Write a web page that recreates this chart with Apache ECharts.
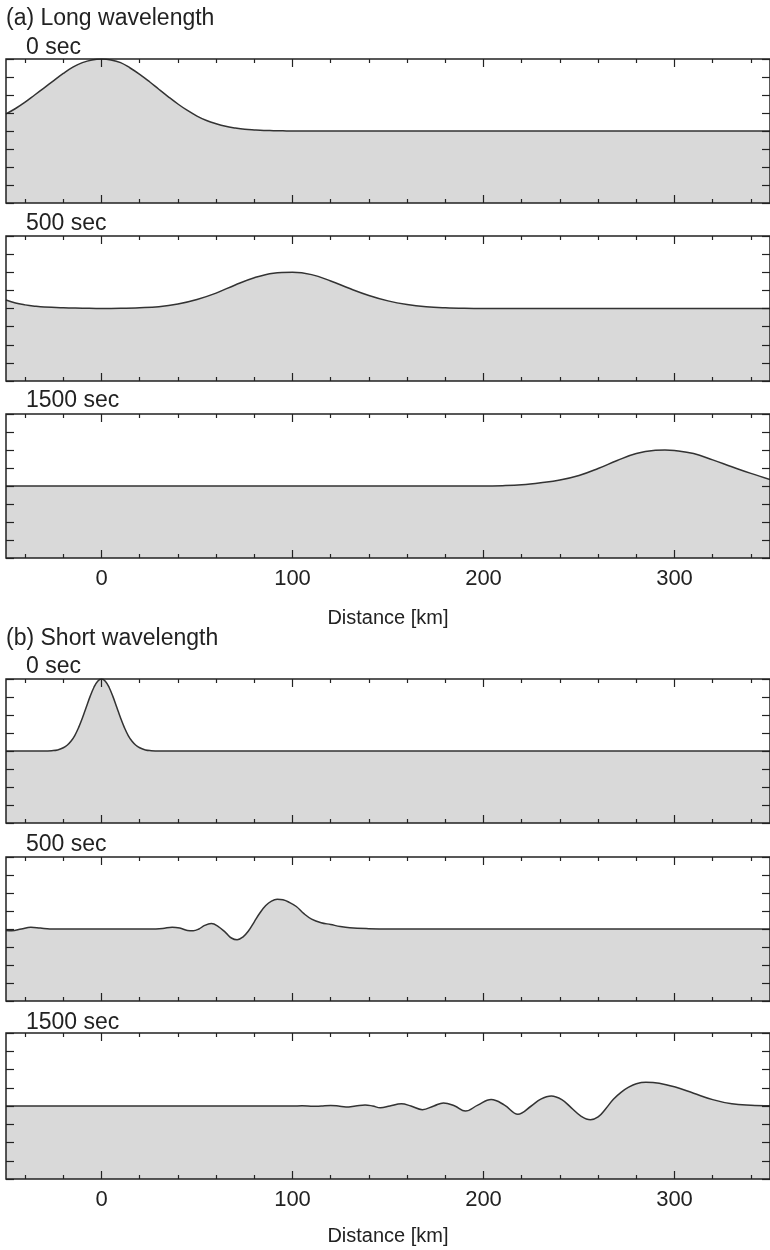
<!DOCTYPE html>
<html>
<head>
<meta charset="utf-8">
<script src="https://cdn.jsdelivr.net/npm/echarts@6/dist/echarts.min.js"></script>
<style>
  html, body { margin: 0; padding: 0; background: #fff; }
  #main { width: 770px; height: 1250px; }
</style>
</head>
<body>
<div id="main"></div>
<script>
// ticks on the distance axis
const majorTicks = [0, 100, 200, 300];
const minorTicks = [-40, -20, 20, 40, 60, 80, 120, 140, 160, 180, 220, 240, 260, 280, 320, 340];

// panel titles
const groupTitles = ['(a) Long wavelength', '(b) Short wavelength'];
const timeLabels = ['0 sec', '500 sec', '1500 sec', '0 sec', '500 sec', '1500 sec'];

// (a) long wavelength, 0 sec
const longX0 = [-50, -45, -40, -35, -30, -25, -20, -15, -10, -5, 0, 5, 10, 15, 20, 25, 30, 35, 40, 45, 50, 55, 60, 65, 70, 75, 80, 85, 90, 95, 100, 150, 200, 250, 300, 350];
const longY0 = [0.95, 1.25, 1.6, 2.0, 2.4, 2.8, 3.2, 3.55, 3.8, 3.95, 4.0, 3.95, 3.8, 3.5, 3.15, 2.75, 2.32, 1.9, 1.5, 1.14, 0.83, 0.58, 0.4, 0.26, 0.17, 0.1, 0.06, 0.03, 0.02, 0.01, 0, 0, 0, 0, 0, 0];
// (a) 500 sec
const longX1 = [-50, -45, -40, -35, -30, -20, -10, 0, 10, 20, 30, 40, 50, 60, 70, 80, 90, 100, 110, 120, 130, 140, 150, 160, 170, 180, 190, 200, 250, 300, 350];
const longY1 = [0.47, 0.3, 0.2, 0.13, 0.08, 0.04, 0.02, 0, 0.01, 0.04, 0.1, 0.25, 0.5, 0.85, 1.3, 1.7, 1.95, 2.0, 1.87, 1.52, 1.1, 0.72, 0.42, 0.22, 0.1, 0.04, 0.01, 0, 0, 0, 0];
// (a) 1500 sec
const longX2 = [-50, 0, 50, 100, 150, 200, 210, 220, 230, 240, 250, 260, 270, 280, 290, 295, 300, 310, 320, 330, 340, 350];
const longY2 = [0, 0, 0, 0, 0, 0, 0.02, 0.07, 0.18, 0.33, 0.58, 0.97, 1.42, 1.8, 1.98, 2.0, 1.97, 1.8, 1.45, 1.07, 0.7, 0.36];

// (b) short wavelength, 0 sec
const shortX0 = [-50, -30, -26, -23, -20, -18, -16, -14, -12, -10, -8, -6, -4, -2, 0, 2, 4, 6, 8, 10, 12, 14, 16, 18, 20, 23, 26, 30, 50, 100, 200, 300, 350];
const shortY0 = [0, 0, 0.02, 0.06, 0.18, 0.32, 0.54, 0.86, 1.3, 1.83, 2.43, 3.02, 3.53, 3.88, 4.0, 3.88, 3.53, 3.02, 2.43, 1.83, 1.3, 0.86, 0.54, 0.32, 0.18, 0.06, 0.02, 0, 0, 0, 0, 0, 0];
// (b) 500 sec
const shortX1 = [-50, -47, -42, -37, -32, -27, -20, 0, 25, 32, 37, 41, 45, 48, 51, 54, 57.5, 61, 65, 68, 71, 74, 77, 80, 83, 86, 89, 92, 95, 98, 102, 106, 110, 115, 120, 125, 130, 140, 150, 200, 250, 300, 350];
const shortY1 = [-0.08, -0.1, 0, 0.1, 0.05, 0, 0, 0, 0, 0.03, 0.1, 0.05, -0.08, -0.1, 0, 0.2, 0.3, 0.15, -0.2, -0.5, -0.6, -0.45, -0.1, 0.4, 0.9, 1.3, 1.55, 1.65, 1.62, 1.5, 1.25, 0.85, 0.55, 0.35, 0.25, 0.14, 0.07, 0.02, 0, 0, 0, 0, 0];
// (b) 1500 sec
const shortX2 = [-50, 0, 50, 100, 105, 111, 115, 120, 124, 128, 133, 138, 142, 146, 151, 157, 162, 168, 174, 179, 185, 190.5, 197, 204, 211, 218, 225, 230, 235.5, 241, 246, 251, 256, 260, 264, 268, 272, 276, 280, 285, 292, 300, 310, 320, 330, 340, 350];
const shortY2 = [0, 0, 0, 0, 0.01, -0.02, 0, 0.03, 0, -0.05, 0, 0.06, 0, -0.1, 0, 0.12, 0, -0.2, 0, 0.17, 0, -0.28, 0.05, 0.35, 0.05, -0.45, 0, 0.38, 0.55, 0.35, -0.1, -0.55, -0.75, -0.6, -0.15, 0.37, 0.75, 1.03, 1.22, 1.3, 1.25, 1.05, 0.7, 0.35, 0.12, 0.04, 0.01];

const panelsX = [longX0, longX1, longX2, shortX0, shortX1, shortX2];
const panelsY = [longY0, longY1, longY2, shortY0, shortY1, shortY2];

// layout of the six frames
const gridTops = [59, 236, 414, 679, 857, 1033];
const gridHeights = [144, 145, 144, 144, 144, 146];
const labelPanels = [2, 5];
const nameGaps = [50, 47];

const ink = '#222';
const font = 'Liberation Sans, Arial, Helvetica, sans-serif';

const chart = echarts.init(document.getElementById('main'));

const grid = [];
const xAxis = [];
const yAxis = [];
const series = [];

gridTops.forEach(function (top, i) {
  grid.push({
    left: 6, top: top, width: 769, height: gridHeights[i], z: 10,
    show: true, borderColor: ink, borderWidth: 1.5, backgroundColor: 'transparent'
  });
  const withLabels = labelPanels.indexOf(i) >= 0;
  ['bottom', 'top'].forEach(function (pos) {
    [[majorTicks, 8], [minorTicks, 4]].forEach(function (tk, k) {
      const showLab = withLabels && pos === 'bottom' && k === 0;
      xAxis.push({
        gridIndex: i, type: 'value', min: -50, max: 350, position: pos, z: 10,
        axisLine: { show: false, onZero: false },
        splitLine: { show: false },
        axisTick: {
          inside: true, length: tk[1], customValues: tk[0],
          lineStyle: { color: ink, width: 1.2 }
        },
        axisLabel: {
          show: showLab, customValues: majorTicks, margin: 10,
          fontSize: 22, color: ink, fontFamily: font
        },
        name: showLab ? 'Distance [km]' : '',
        nameLocation: 'middle',
        nameGap: showLab ? nameGaps[labelPanels.indexOf(i)] : 0,
        nameTextStyle: { fontSize: 20, color: ink, fontFamily: font }
      });
    });
  });
  ['left', 'right'].forEach(function (pos) {
    yAxis.push({
      gridIndex: i, type: 'value', min: -4, max: 4, interval: 1, position: pos, z: 10,
      axisLine: { show: false, onZero: false },
      splitLine: { show: false },
      axisTick: { inside: true, length: 8, lineStyle: { color: ink, width: 1.2 } },
      axisLabel: { show: false }
    });
  });
  series.push({
    type: 'line',
    xAxisIndex: i * 4,
    yAxisIndex: i * 2,
    z: 1,
    data: panelsX[i].map(function (x, j) { return [x, panelsY[i][j]]; }),
    showSymbol: false,
    smooth: 0.4,
    lineStyle: { color: '#333', width: 1.5 },
    areaStyle: { color: '#d9d9d9', opacity: 1, origin: 'start' },
    silent: true,
    animation: false
  });
});

// text labels above frames
const titleCenters = [17.5, 637];
const timeCenters = [46, 222.5, 399, 665.5, 843.5, 1021.5];
const graphic = [];
groupTitles.forEach(function (t, i) {
  graphic.push({
    type: 'text', left: 6, top: titleCenters[i] - 10,
    style: { text: t, fontSize: 23, fill: ink, fontFamily: font }
  });
});
timeLabels.forEach(function (t, i) {
  graphic.push({
    type: 'text', left: 26, top: timeCenters[i] - 10,
    style: { text: t, fontSize: 23, fill: ink, fontFamily: font }
  });
});

chart.setOption({
  animation: false,
  grid: grid,
  xAxis: xAxis,
  yAxis: yAxis,
  series: series,
  graphic: graphic
});
</script>
</body>
</html>
